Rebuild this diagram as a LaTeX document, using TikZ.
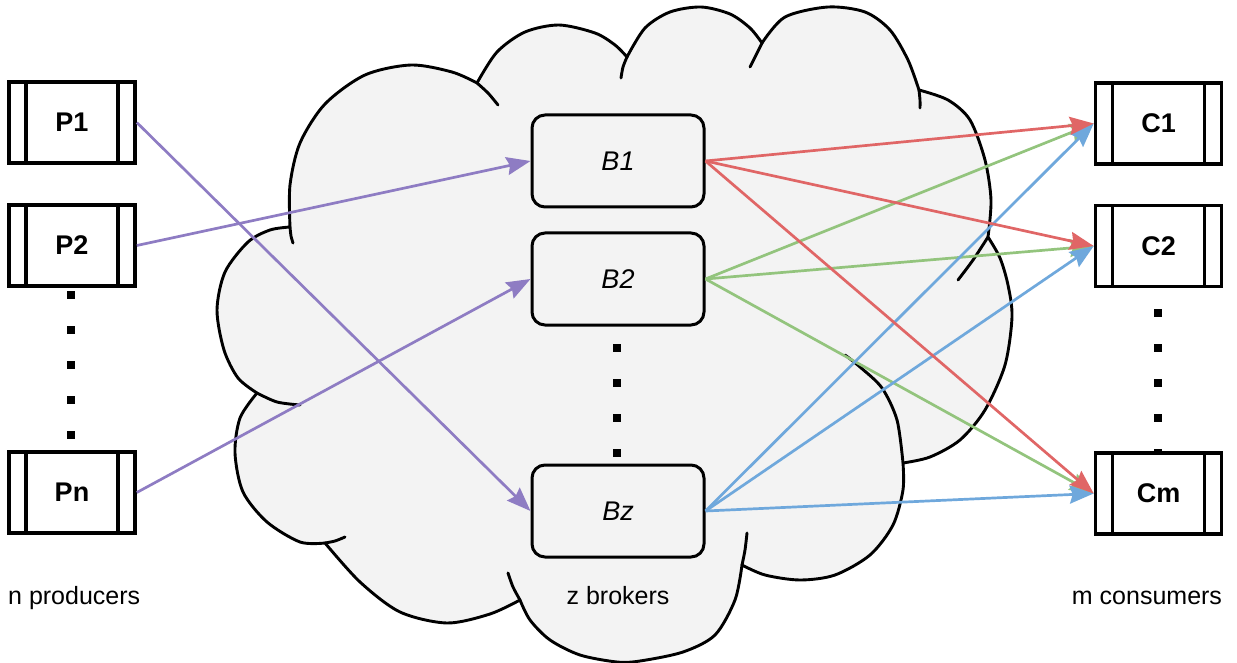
\documentclass[tikz,border=0pt]{standalone}
\usepackage{fontspec}
\setmainfont{Liberation Sans}
\usetikzlibrary{arrows.meta}
\definecolor{pur}{HTML}{8E7CC3}
\definecolor{redc}{HTML}{E06666}
\definecolor{grn}{HTML}{93C47D}
\definecolor{blu}{HTML}{6FA8DC}
\definecolor{cloudfill}{HTML}{F3F3F3}
\begin{document}
\begin{tikzpicture}[x=1pt,y=-1pt,
  strip/.style={draw, line width=3.6pt, fill=white, minimum width=126pt, minimum height=81pt, inner sep=0pt,
     font=\fontsize{27}{32}\selectfont\bfseries,
     path picture={\draw[line width=3.6pt] ([xshift=17pt]path picture bounding box.north west) -- ([xshift=17pt]path picture bounding box.south west);
                   \draw[line width=3.6pt] ([xshift=-17pt]path picture bounding box.north east) -- ([xshift=-17pt]path picture bounding box.south east);}},
  broker/.style={draw, line width=3pt, fill=cloudfill, rounded corners=13pt, minimum width=172pt, minimum height=92pt, inner sep=0pt, font=\fontsize{27}{32}\selectfont\itshape},
  sqdot/.style={fill=black, minimum size=7.5pt, inner sep=0pt, outer sep=0pt},
  cloudline/.style={line width=2.9pt, line join=round, line cap=round},
  conn/.style={line width=2.7pt, -{Stealth[length=24pt, width=18pt, inset=3pt]}},
  lbl/.style={font=\fontsize{25}{30}\selectfont, inner sep=0pt}
]
\useasboundingbox (0,0) rectangle (1237,663);

% cloud
\draw[cloudline, fill=cloudfill]
  plot[smooth] coordinates {(290,227) (290,185) (300,143) (325,104) (365,75) (411,65) (452,72) (477,83)}
  -- plot[smooth] coordinates {(477,83) (497,52) (525,32) (559,25) (595,33) (615,45) (627,57)}
  -- plot[smooth] coordinates {(627,57) (645,28) (670,12) (701,7) (730,14) (750,28) (762,43)}
  -- plot[smooth] coordinates {(762,43) (785,17) (828,7) (865,12) (890,30) (908,60) (919,90)}
  -- plot[smooth] coordinates {(919,90) (948,100) (970,120) (985,160) (991,200) (988,237)}
  -- plot[smooth] coordinates {(988,237) (1000,258) (1008,285) (1012,317) (1005,365) (985,410) (960,440) (930,457) (903,463)}
  -- plot[smooth] coordinates {(903,463) (903,490) (893,525) (870,555) (835,575) (800,580) (765,575) (742,565)}
  -- plot[smooth] coordinates {(742,565) (735,600) (715,635) (683,652) (640,661) (617,662) (580,655) (550,640) (530,620) (520,600)}
  -- plot[smooth] coordinates {(520,600) (490,614) (447,623) (400,612) (360,582) (325,543)}
  -- plot[smooth] coordinates {(325,543) (300,542) (267,522) (243,492) (235,453) (240,418) (257,393)}
  -- plot[smooth] coordinates {(257,393) (238,378) (224,350) (217,310) (225,272) (248,242) (270,230) (290,227)}
  -- cycle;
% inner hooks of the cloud
\draw[cloudline] plot[smooth] coordinates {(290,227) (291,236) (293,243)};
\draw[cloudline] plot[smooth] coordinates {(477,83) (488,93) (498,105)};
\draw[cloudline] plot[smooth] coordinates {(627,57) (623,67) (621,78)};
\draw[cloudline] plot[smooth] coordinates {(762,43) (756,55) (750,67)};
\draw[cloudline] plot[smooth] coordinates {(919,90) (920,100) (920,108)};
\draw[cloudline] plot[smooth] coordinates {(988,237) (973,260) (958,280)};
\draw[cloudline] plot[smooth] coordinates {(845,355) (860,367) (882,388) (897,420) (903,463)};
\draw[cloudline] plot[smooth] coordinates {(742,565) (745,550) (747,533)};
\draw[cloudline] plot[smooth] coordinates {(520,600) (513,587) (508,573)};
\draw[cloudline] plot[smooth] coordinates {(325,543) (335,541) (345,537)};
\draw[cloudline] plot[smooth] coordinates {(257,393) (277,402) (300,405)};

% dots
\node[sqdot] (dp1) at (71,295) {};
\node[sqdot] (dp2) at (71,330) {};
\node[sqdot] (dp3) at (71,365) {};
\node[sqdot] (dp4) at (71,400) {};
\node[sqdot] (dp5) at (71,435) {};
\node[sqdot] (db1) at (617,348) {};
\node[sqdot] (db2) at (617,383) {};
\node[sqdot] (db3) at (617,418) {};
\node[sqdot] (db4) at (617,453) {};
\node[sqdot] (dc1) at (1158,313) {};
\node[sqdot] (dc2) at (1158,348) {};
\node[sqdot] (dc3) at (1158,383) {};
\node[sqdot] (dc4) at (1158,418) {};
\node[sqdot] (dc5) at (1158,453) {};

% boxes
\node[strip] (P1) at (72,122.5) {P1};
\node[strip] (P2) at (72,245.5) {P2};
\node[strip] (Pn) at (72,492.5) {Pn};
\node[strip] (C1) at (1158.5,123.5) {C1};
\node[strip] (C2) at (1158.5,246) {C2};
\node[strip] (Cm) at (1158.5,493.5) {Cm};
\node[broker] (B1) at (618,161) {B1};
\node[broker] (B2) at (618,279) {B2};
\node[broker] (Bz) at (618,511) {Bz};

% labels
\node[lbl, anchor=base west] (lp) at (8,604) {n producers};
\node[lbl, anchor=base] (lb) at (618,604) {z brokers};
\node[lbl, anchor=base] (lc) at (1147,604) {m consumers};

% connectors
\draw[conn, pur] (P1.east) -- (Bz.west);
\draw[conn, pur] (P2.east) -- (B1.west);
\draw[conn, pur] (Pn.east) -- (B2.west);
\draw[conn, grn] (B2.east) -- (C1.west);
\draw[conn, grn] (B2.east) -- (C2.west);
\draw[conn, grn] (B2.east) -- (Cm.west);
\draw[conn, blu] (Bz.east) -- (C1.west);
\draw[conn, blu] (Bz.east) -- (C2.west);
\draw[conn, blu] (Bz.east) -- (Cm.west);
\draw[conn, redc] (B1.east) -- (C1.west);
\draw[conn, redc] (B1.east) -- (C2.west);
\draw[conn, redc] (B1.east) -- (Cm.west);
\end{tikzpicture}
\end{document}
